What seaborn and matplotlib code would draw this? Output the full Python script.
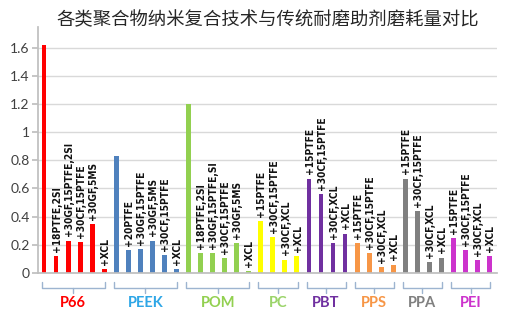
import numpy as np
import pandas as pd
import seaborn as sns
import matplotlib
matplotlib.use("Agg")
import matplotlib.pyplot as plt
import matplotlib.transforms as mtransforms

# ---------------- data ----------------
title = "各类聚合物纳米复合技术与传统耐磨助剂磨耗量对比"
groups = ["P66", "PEEK", "POM", "PC", "PBT", "PPS", "PPA", "PEI"]

p66_labels = ["", "+18PTFE,2SI", "+30GF,15PTFE,2SI", "+30CF,15PTFE", "+30GF,5MS", "+XCL"]
p66_values = [1.62, 0.12, 0.23, 0.22, 0.35, 0.03]
peek_labels = ["", "+20PTFE", "+30GF,15PTFE", "+30GF,5MS", "+30CF,15PTFE", "+XCL"]
peek_values = [0.83, 0.16, 0.17, 0.23, 0.13, 0.03]
pom_labels = ["", "+18PTFE,2SI", "+30GF,15PTFE,SI", "+30CF,15PTFE", "+30GF,5MS", "+XCL"]
pom_values = [1.20, 0.14, 0.14, 0.105, 0.21, 0.015]
pc_labels = ["+15PTFE", "+30CF,15PTFE", "+30CF,XCL", "+XCL"]
pc_values = [0.37, 0.255, 0.095, 0.12]
pbt_labels = ["+15PTFE", "+30CF,15PTFE", "+30CF,XCL", "+XCL"]
pbt_values = [0.67, 0.56, 0.21, 0.28]
pps_labels = ["+15PTFE", "+30CF,15PTFE", "+30CF,XCL", "+XCL"]
pps_values = [0.21, 0.14, 0.04, 0.06]
ppa_labels = ["+15PTFE", "+30CF,15PTFE", "+30CF,XCL", "+XCL"]
ppa_values = [0.67, 0.44, 0.08, 0.11]
pei_labels = ["+15PTFE", "+30CF,15PTFE", "+30CF,XCL", "+XCL"]
pei_values = [0.25, 0.16, 0.09, 0.12]

y_ticks = [0, 0.2, 0.4, 0.6, 0.8, 1.0, 1.2, 1.4, 1.6]

# ---------------- styles ----------------
bar_colors = {"P66": "#FF0000", "PEEK": "#4F81BD", "POM": "#92D050", "PC": "#FFFF00",
              "PBT": "#7030A0", "PPS": "#F79646", "PPA": "#808080", "PEI": "#CC33CC"}
label_colors = {"P66": "#FF0000", "PEEK": "#2EA6E6", "POM": "#92D050", "PC": "#9BD46A",
                "PBT": "#7030A0", "PPS": "#F79646", "PPA": "#808080", "PEI": "#CC33CC"}

all_labels = [p66_labels, peek_labels, pom_labels, pc_labels, pbt_labels, pps_labels, ppa_labels, pei_labels]
all_values = [p66_values, peek_values, pom_values, pc_values, pbt_values, pps_values, ppa_values, pei_values]

rows = []
for g, labs, vals in zip(groups, all_labels, all_values):
    for lab, v in zip(labs, vals):
        rows.append({"group": g, "label": lab, "value": v})
df = pd.DataFrame(rows)
df["idx"] = np.arange(len(df))

sns.set_theme(style="white")
plt.rcParams["font.family"] = ["Lato", "DejaVu Sans"]

fig = plt.figure(figsize=(5.09, 3.23), dpi=100)
ax = fig.add_axes([0.0747, 0.1548, 0.9013, 0.7612])

sns.barplot(data=df, x="idx", y="value", hue="group", palette=bar_colors,
            dodge=False, width=0.4, legend=False, ax=ax, saturation=1, linewidth=0)

ax.set_ylim(0, 1.745)
ax.set_xlim(-0.5, len(df) - 0.4)
ax.set_yticks(y_ticks)
ax.set_yticklabels([f"{v:g}" for v in y_ticks], fontsize=10, color="#404040")
ax.set_xticks([])
ax.set_xlabel("")
ax.set_ylabel("")
ax.yaxis.grid(True, color="#D9D9D9", linewidth=1)
ax.set_axisbelow(True)
for s in ["top", "right"]:
    ax.spines[s].set_visible(False)
ax.spines["left"].set_color("#BFBFBF")
ax.spines["bottom"].set_color("#BFBFBF")
ax.tick_params(axis="y", length=4, color="#BFBFBF", left=True, pad=2)

# bar labels
for _, r in df.iterrows():
    if r["label"]:
        ax.annotate(r["label"], (r["idx"], r["value"]), xytext=(0.5, 3),
                    textcoords="offset points", rotation=90, ha="center", va="bottom",
                    fontsize=7.3, fontweight="bold", color="#111111",
                    family="DejaVu Sans", fontstretch="condensed")

# group brackets
trans = mtransforms.blended_transform_factory(ax.transData, ax.transAxes)
bc = "#9DB4D0"
start = 0
for g, vals in zip(groups, all_values):
    n = len(vals)
    x0, x1 = start - 0.2, start + n - 1 + 0.05
    xm = (x0 + x1) / 2
    ax.plot([x0, x0, x1, x1], [-0.037, -0.061, -0.061, -0.037], color=bc, lw=1,
            transform=trans, clip_on=False)
    ax.plot([xm, xm], [-0.061, -0.082], color=bc, lw=1, transform=trans, clip_on=False)
    ax.text(xm, -0.122, g, transform=trans, ha="center", va="center", fontsize=10.5,
            fontweight="bold", color=label_colors[g])
    start += n

fig.text(0.5255, 0.938, title, ha="center", va="center", fontsize=13.2,
         color="#262626", family=["Noto Sans CJK SC", "DejaVu Sans"])

fig.savefig("out.png", dpi=100, facecolor="white")
